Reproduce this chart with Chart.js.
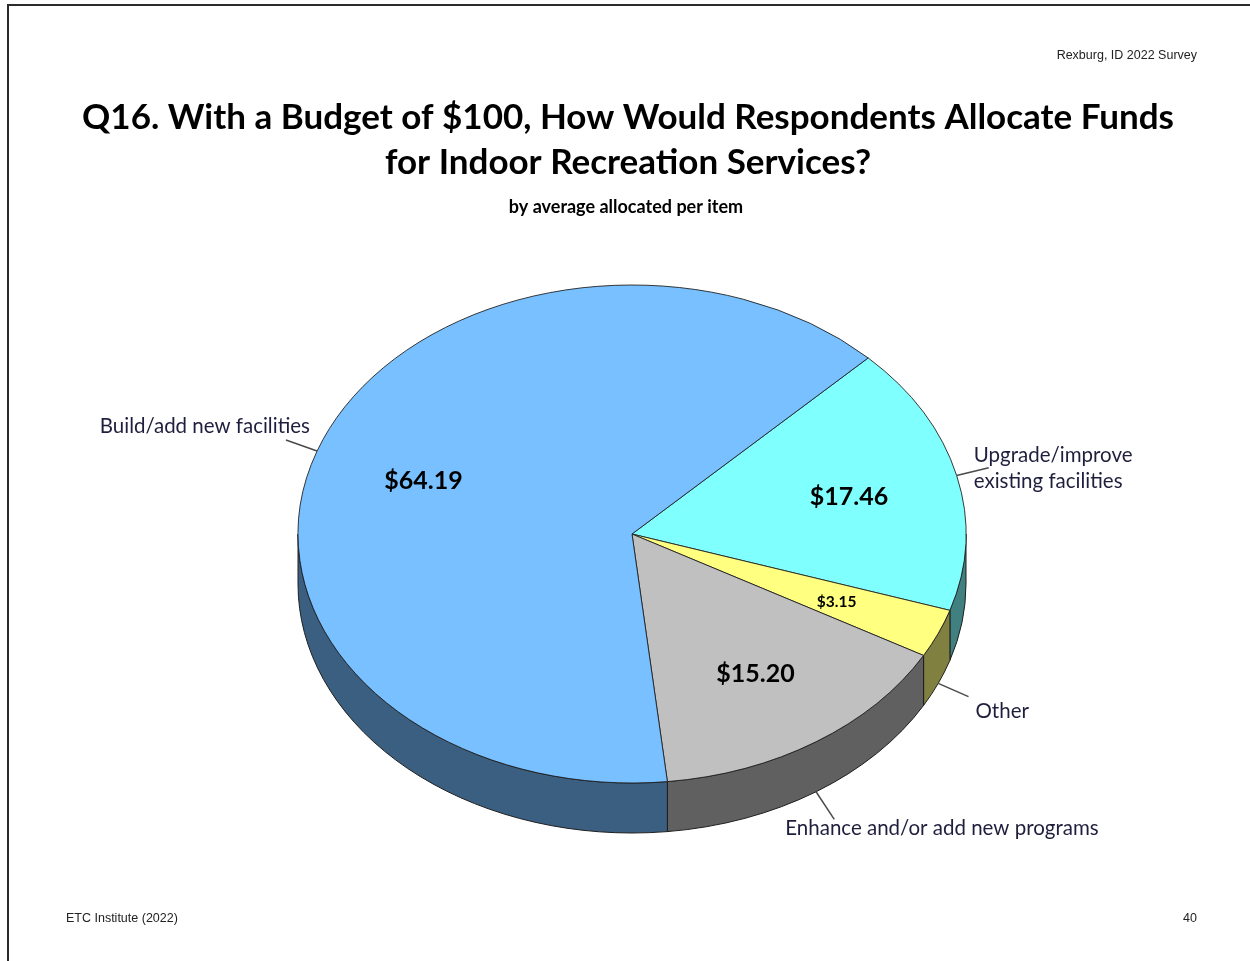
<!DOCTYPE html>
<html>
<head>
<meta charset="utf-8">
<title>Q16 Indoor Recreation Budget Allocation</title>
<script src="https://cdn.jsdelivr.net/npm/chart.js@4.4.1/dist/chart.umd.min.js"></script>
<style>
  html, body { margin: 0; padding: 0; background: #ffffff; }
  #page { position: relative; width: 1250px; height: 961px; overflow: hidden; }
  #chart { position: absolute; left: 0; top: 0; }
  #frame { position: absolute; left: 7px; top: 4px; width: 1300px; height: 1000px;
           border-left: 2px solid #2b2b2b; border-top: 2px solid #2b2b2b; }
  .note { position: absolute; font-family: "Liberation Sans", Arial, sans-serif;
          font-size: 12.5px; line-height: 14px; color: #222; white-space: nowrap; }
</style>
</head>
<body>
<div id="page">
  <canvas id="chart" width="1250" height="961"></canvas>
  <div id="frame"></div>
  <div class="note" style="right:53px; top:48px;">Rexburg, ID 2022 Survey</div>
  <div class="note" style="left:66px; top:911px;">ETC Institute (2022)</div>
  <div class="note" style="right:53px; top:911px;">40</div>
</div>
<script>
// Slices in clockwise order, starting at the upper right
const categories = [
  ['Upgrade/improve', 'existing facilities'],
  ['Other'],
  ['Enhance and/or add new programs'],
  ['Build/add new facilities']
];
const values = [17.46, 3.15, 15.20, 64.19];
const topColors = ['#80FFFF', '#FFFF80', '#C0C0C0', '#78C0FF'];
const sideColors = ['#408080', '#808040', '#606060', '#3B5F80'];

const titleLines = [
  'Q16. With a Budget of $100, How Would Respondents Allocate Funds',
  'for Indoor Recreation Services?'
];
const subtitleText = 'by average allocated per item';

// Tilted-disc geometry
const CENTER_Y = 534;   // on-screen centre of the top face
const RADIUS = 334;
const TILT = 249 / 334; // vertical squash of the top face
const DEPTH = 50;       // thickness of the disc

// Where each category caption sits relative to the end of its leader line
const captionPlacement = [
  { dx: -15, dy: 1, align: 'left' },
  { dx: 7, dy: 15, align: 'left' },
  { dx: -49, dy: 9, align: 'left' },
  { dx: 24, dy: -14, align: 'right' }
];

const money = v => '$' + v.toFixed(2);

function frontRanges(s, e) {
  // parts of [s, e] that face the viewer (angles 0..PI, modulo 2PI)
  const out = [];
  for (let k = -1; k <= 1; k++) {
    const lo = k * 2 * Math.PI, hi = lo + Math.PI;
    const a = Math.max(s, lo), b = Math.min(e, hi);
    if (b > a) out.push([a, b]);
  }
  return out;
}

// Heading block drawn on the canvas, centred over the page
const heading = {
  id: 'heading',
  afterDraw(chart) {
    const ctx = chart.ctx;
    ctx.save();
    ctx.fillStyle = '#000';
    ctx.textAlign = 'center';
    ctx.textBaseline = 'middle';
    ctx.font = 'bold 35px Lato, "Open Sans", sans-serif';
    titleLines.forEach((t, k) => ctx.fillText(t, 628, 118 + k * 45));
    ctx.font = 'bold 18px Lato, "Open Sans", sans-serif';
    ctx.fillText(subtitleText, 626, 207);
    ctx.restore();
  }
};

const pie3d = {
  id: 'pie3d',
  beforeDatasetsDraw(chart) {
    const ctx = chart.ctx;
    const arcs = chart.getDatasetMeta(0).data;
    if (!arcs.length) return;
    const { x, y, outerRadius } = arcs[0].getProps(['x', 'y', 'outerRadius'], true);
    const ry = outerRadius * TILT;

    // side walls of the disc
    ctx.save();
    ctx.lineWidth = 1;
    ctx.strokeStyle = '#1e1e1e';
    ctx.lineJoin = 'round';
    arcs.forEach((arc, i) => {
      const { startAngle, endAngle } = arc.getProps(['startAngle', 'endAngle'], true);
      frontRanges(startAngle, endAngle).forEach(([a, b]) => {
        ctx.beginPath();
        ctx.ellipse(x, CENTER_Y, outerRadius, ry, 0, a, b, false);
        ctx.lineTo(x + outerRadius * Math.cos(b), CENTER_Y + DEPTH + ry * Math.sin(b));
        ctx.ellipse(x, CENTER_Y + DEPTH, outerRadius, ry, 0, b, a, true);
        ctx.closePath();
        ctx.fillStyle = sideColors[i];
        ctx.fill();
        ctx.stroke();
      });
    });
    ctx.restore();

    // squash the flat pie into the tilted top face
    ctx.save();
    ctx.translate(x, CENTER_Y);
    ctx.scale(1, TILT);
    ctx.translate(-x, -y);
  },
  afterDatasetsDraw(chart) {
    const ctx = chart.ctx;
    ctx.restore();
    const arcs = chart.getDatasetMeta(0).data;
    if (!arcs.length) return;
    const { x, outerRadius } = arcs[0].getProps(['x', 'outerRadius'], true);
    const ry = outerRadius * TILT;

    arcs.forEach((arc, i) => {
      const { startAngle, endAngle } = arc.getProps(['startAngle', 'endAngle'], true);
      const mid = (startAngle + endAngle) / 2;
      const c = Math.cos(mid), s = Math.sin(mid);

      // value on the top face
      const small = (endAngle - startAngle) < 0.3;
      ctx.save();
      ctx.font = 'bold ' + (small ? 15.5 : 25) + 'px Lato, "Open Sans", sans-serif';
      ctx.fillStyle = '#000';
      ctx.textAlign = 'center';
      ctx.textBaseline = 'middle';
      ctx.fillText(money(values[i]), x + 1 + 0.665 * outerRadius * c, CENTER_Y + 2 + 0.665 * ry * s);
      ctx.restore();

      // leader line from the rim
      const ax = x + outerRadius * c;
      const ay = CENTER_Y + ry * s + (s > 0 ? DEPTH : 0);
      const ex = ax + 33 * c, ey = ay + 33 * s;
      ctx.save();
      ctx.strokeStyle = '#4a4a4a';
      ctx.lineWidth = 1.5;
      ctx.beginPath();
      ctx.moveTo(ax, ay);
      ctx.lineTo(ex, ey);
      ctx.stroke();

      // category caption
      const p = captionPlacement[i];
      const lines = categories[i];
      const lh = 26;
      ctx.font = '20.5px Lato, "Open Sans", sans-serif';
      ctx.fillStyle = '#1f1f3d';
      ctx.textAlign = p.align;
      ctx.textBaseline = 'middle';
      const y0 = ey + p.dy - (lines.length - 1) * lh / 2;
      lines.forEach((ln, k) => ctx.fillText(ln, ex + p.dx, y0 + k * lh));
      ctx.restore();
    });
  }
};

function build() {
  new Chart(document.getElementById('chart'), {
    type: 'pie',
    data: {
      labels: categories,
      datasets: [{
        data: values,
        backgroundColor: topColors,
        borderColor: '#1e1e1e',
        borderWidth: 1,
        clip: false
      }]
    },
    options: {
      responsive: false,
      animation: false,
      events: [],
      rotation: 45,
      radius: RADIUS,
      layout: { padding: { left: 14, right: 0, top: 230, bottom: 10 } },
      plugins: {
        legend: { display: false },
        tooltip: { enabled: false },
        title: { display: false },
        subtitle: { display: false }
      }
    },
    plugins: [pie3d, heading]
  });
}

if (document.fonts && document.fonts.load) {
  Promise.all([
    document.fonts.load('bold 35px Lato'),
    document.fonts.load('20px Lato')
  ]).then(build, build);
} else {
  build();
}
</script>
</body>
</html>
